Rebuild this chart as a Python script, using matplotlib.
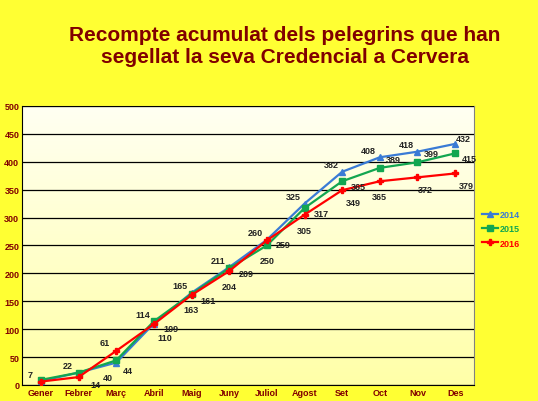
import matplotlib.pyplot as plt
import numpy as np

plt.rcParams["font.family"] = ["Liberation Sans", "DejaVu Sans"]

months = ["Gener", "Febrer", "Març", "Abril", "Maig", "Juny", "Juliol",
          "Agost", "Set", "Oct", "Nov", "Des"]
v2014 = [7, 22, 40, 110, 165, 211, 260, 325, 382, 408, 418, 432]
v2015 = [9, 22, 44, 114, 163, 209, 250, 317, 365, 389, 399, 415]
v2016 = [6, 14, 61, 109, 161, 204, 259, 305, 349, 365, 372, 379]

# label offsets in points (None = no label)
off2014 = [(-8, 5), (-8, 5), (-6, -11), (8, -10), (-8, 5), (-8, 5), (-8, 5),
           (-8, 5), (-8, 5), (-8, 5), (-8, 5), (6, 4)]
off2015 = [None, None, (8, -7), (-8, 5), (0, -11), (12, -4), (0, -11), (12, -4),
           (12, -4), (10, 6), (10, 6), (10, -4)]
off2016 = [None, (12, -5), (-8, 6), (12, -3), (12, -4), (0, -11), (12, -3), (0, -11),
           (8, -9), (0, -11), (6, -9), (8, -9)]

fig = plt.figure(figsize=(5.38, 4.02), dpi=100)
fig.patch.set_facecolor("#ffff33")
ax = fig.add_axes([0.041, 0.04, 0.84, 0.694])

# light yellow gradient background
grad = np.linspace(0, 1, 100).reshape(-1, 1)
ax.imshow(grad, extent=[-0.5, 11.5, 0, 500], aspect="auto", origin="upper",
          cmap=plt.matplotlib.colors.LinearSegmentedColormap.from_list(
              "bg", ["#fffff2", "#ffffa8"]), zorder=0)

x = np.arange(len(months))
series = [
    (v2014, off2014, "#3a7bd5", "^", "2014"),
    (v2015, off2015, "#12a650", "s", "2015"),
    (v2016, off2016, "#ff0000", "P", "2016"),
]
for vals, offs, color, marker, name in series:
    ax.plot(x, vals, color=color, marker=marker, markersize=5, linewidth=1.6,
            label=name, zorder=3)
    for xi, v, o in zip(x, vals, offs):
        if o is None:
            continue
        ax.annotate(str(v), (xi, v), xytext=o, textcoords="offset points",
                    ha="center", va="center", fontsize=6.5, fontweight="bold",
                    color="#222222", zorder=4)

ax.set_xlim(-0.5, 11.5)
ax.set_ylim(0, 500)
ax.set_yticks(range(0, 501, 50))
ax.yaxis.grid(True, color="black", linewidth=0.9)
ax.set_axisbelow(False)
ax.set_xticks(x)
ax.set_xticklabels(months)
ax.tick_params(length=0, labelsize=6.5, labelcolor="#800000", pad=2)
for lbl in ax.get_xticklabels() + ax.get_yticklabels():
    lbl.set_fontweight("bold")
for s in ax.spines.values():
    s.set_color("#808080")
ax.spines["left"].set_color("black")
ax.spines["bottom"].set_color("black")

leg = ax.legend(loc="center left", bbox_to_anchor=(1.0, 0.56), frameon=False,
                fontsize=6.5, handlelength=1.8, handletextpad=0.1, labelspacing=0.6,
                markerscale=0.8)
for txt, (_, _, color, _, _) in zip(leg.get_texts(), series):
    txt.set_color(color)
    txt.set_fontweight("bold")

fig.text(0.53, 0.885, "Recompte acumulat dels pelegrins que han\nsegellat la seva Credencial a Cervera",
         ha="center", va="center", fontsize=15, fontweight="bold", color="#800000",
         linespacing=1.2)

fig.savefig("out.png", dpi=100)
